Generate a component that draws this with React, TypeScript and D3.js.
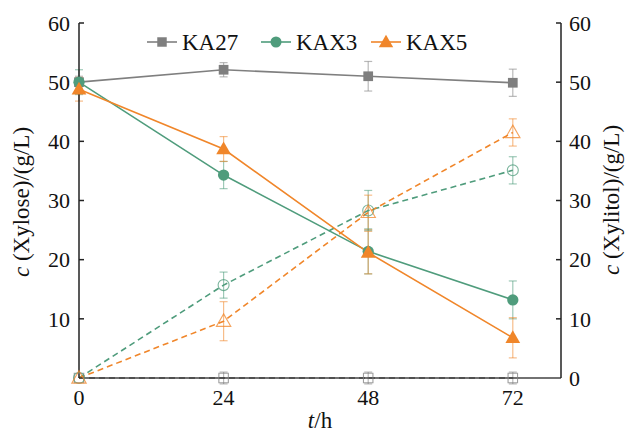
import React from 'react';
import * as d3 from 'd3';

// sampling times (h)
const hours = [0, 24, 48, 72];

// xylose, left axis (g/L)
const ka27Xylose = [50.0, 52.1, 51.0, 49.9];
const ka27XyloseErr = [1.0, 1.2, 2.5, 2.3];
const kax3Xylose = [50.0, 34.3, 21.4, 13.2];
const kax3XyloseErr = [2.1, 2.3, 3.8, 3.2];
const kax5Xylose = [48.8, 38.7, 21.2, 6.8];
const kax5XyloseErr = [2.0, 2.1, 3.6, 3.4];

// xylitol, right axis (g/L)
const ka27Xylitol = [0, 0, 0, 0];
const ka27XylitolErr = [0, 1.0, 1.0, 1.0];
const kax3Xylitol = [0, 15.7, 28.3, 35.1];
const kax3XylitolErr = [0, 2.2, 3.4, 2.3];
const kax5Xylitol = [0, 9.6, 28.0, 41.5];
const kax5XylitolErr = [0, 3.3, 2.9, 2.3];

const strains = ['KA27', 'KAX3', 'KAX5'];
const yTicks = [0, 10, 20, 30, 40, 50, 60];

const colors: Record<string, string> = { KA27: '#7f7f7f', KAX3: '#4f9c7c', KAX5: '#f0862a' };
const shapes: Record<string, any> = { KA27: d3.symbolSquare, KAX3: d3.symbolCircle, KAX5: d3.symbolTriangle };
const sizes: Record<string, number> = { KA27: 90, KAX3: 95, KAX5: 90 };

const font = "'Liberation Serif', 'Times New Roman', serif";

export default function App() {
  const x = d3.scaleLinear().domain([0, 80]).range([79, 561]);
  const y = d3.scaleLinear().domain([0, 60]).range([378, 23]);

  const series = [
    { name: 'KA27', vals: ka27Xylitol, err: ka27XylitolErr, open: true },
    { name: 'KAX3', vals: kax3Xylitol, err: kax3XylitolErr, open: true },
    { name: 'KAX5', vals: kax5Xylitol, err: kax5XylitolErr, open: true },
    { name: 'KA27', vals: ka27Xylose, err: ka27XyloseErr, open: false },
    { name: 'KAX3', vals: kax3Xylose, err: kax3XyloseErr, open: false },
    { name: 'KAX5', vals: kax5Xylose, err: kax5XyloseErr, open: false },
  ];

  const line = d3.line<number>()
    .x((d, i) => x(hours[i]))
    .y(d => y(d));

  const sym = (name: string, scale = 1) =>
    d3.symbol().type(shapes[name]).size(sizes[name] * scale)() as string;

  return (
    <svg width={629} height={434} style={{ position: 'absolute', left: 0, top: 0, background: '#fff' }}>
      {/* error bars */}
      {series.map((s, si) => (
        <g key={'e' + si} stroke={colors[s.name]} strokeOpacity={0.55} strokeWidth={1.2}>
          {s.vals.map((v, i) => s.err[i] > 0 && (
            <g key={i}>
              <line x1={x(hours[i])} x2={x(hours[i])} y1={y(v - s.err[i])} y2={y(v + s.err[i])} />
              <line x1={x(hours[i]) - 4} x2={x(hours[i]) + 4} y1={y(v - s.err[i])} y2={y(v - s.err[i])} />
              <line x1={x(hours[i]) - 4} x2={x(hours[i]) + 4} y1={y(v + s.err[i])} y2={y(v + s.err[i])} />
            </g>
          ))}
        </g>
      ))}

      {/* lines */}
      {series.map((s, si) => (
        <path key={'l' + si} d={line(s.vals) as string} fill="none" stroke={colors[s.name]}
          strokeWidth={1.6} strokeDasharray={s.open ? '6,4' : undefined} />
      ))}

      {/* axes */}
      <g stroke="#222" strokeWidth={1.5} fill="none">
        <line x1={x(0)} x2={x(0)} y1={y(60)} y2={y(0)} />
        <line x1={x(80)} x2={x(80)} y1={y(60)} y2={y(0)} />
        <line x1={x(0)} x2={x(80)} y1={y(0)} y2={y(0)} strokeOpacity={0.85} />
        {yTicks.filter(t => t > 0).map(t => (
          <g key={t}>
            <line x1={x(0)} x2={x(0) + 5} y1={y(t)} y2={y(t)} />
            <line x1={x(80)} x2={x(80) - 5} y1={y(t)} y2={y(t)} />
          </g>
        ))}
      </g>

      {/* markers */}
      {series.map((s, si) => (
        <g key={'m' + si}>
          {s.vals.map((v, i) => (
            <path key={i} d={sym(s.name, s.open ? 1.0 : 1.05)}
              transform={`translate(${x(hours[i])},${y(v) + (s.name === 'KAX5' ? 1 : 0)})`}
              fill={s.open ? 'none' : colors[s.name]}
              stroke={colors[s.name]} strokeOpacity={s.open ? 0.75 : 1} strokeWidth={s.open ? 1.1 : 0} />
          ))}
        </g>
      ))}

      {/* tick labels */}
      <g fontSize={22} fill="#111" style={{ fontFamily: font }}>
        {yTicks.filter(t => t > 0).map(t => (
          <text key={'yl' + t} x={70} y={y(t)} dy="0.35em" textAnchor="end">{t}</text>
        ))}
        {yTicks.map(t => (
          <text key={'yr' + t} x={569} y={y(t)} dy="0.35em" textAnchor="start">{t}</text>
        ))}
        {hours.map(h => (
          <text key={'x' + h} x={x(h)} y={405} textAnchor="middle">{h}</text>
        ))}
      </g>

      {/* axis titles */}
      <g fontSize={23} fill="#111" style={{ fontFamily: font }}>
        <text transform={`translate(29,${202}) rotate(-90)`} textAnchor="middle">
          <tspan fontStyle="italic">c</tspan> (Xylose)/(g/L)
        </text>
        <text transform={`translate(619,${200}) rotate(-90)`} textAnchor="middle">
          <tspan fontStyle="italic">c</tspan> (Xylitol)/(g/L)
        </text>
        <text x={320} y={428} textAnchor="middle">
          <tspan fontStyle="italic">t</tspan>/h
        </text>
      </g>

      {/* legend */}
      {strains.map((name, i) => {
        const lx = [147, 261, 371][i];
        return (
          <g key={name} transform={`translate(${lx},42)`}>
            <line x1={0} x2={30} y1={0} y2={0} stroke={colors[name]} strokeWidth={1.6} />
            <path d={sym(name)} transform={`translate(15,${name === 'KAX5' ? 1 : 0})`} fill={colors[name]} />
            <text x={35} y={0} dy="0.35em" fontSize={23} fill="#111" style={{ fontFamily: font }}>{name}</text>
          </g>
        );
      })}
    </svg>
  );
}
